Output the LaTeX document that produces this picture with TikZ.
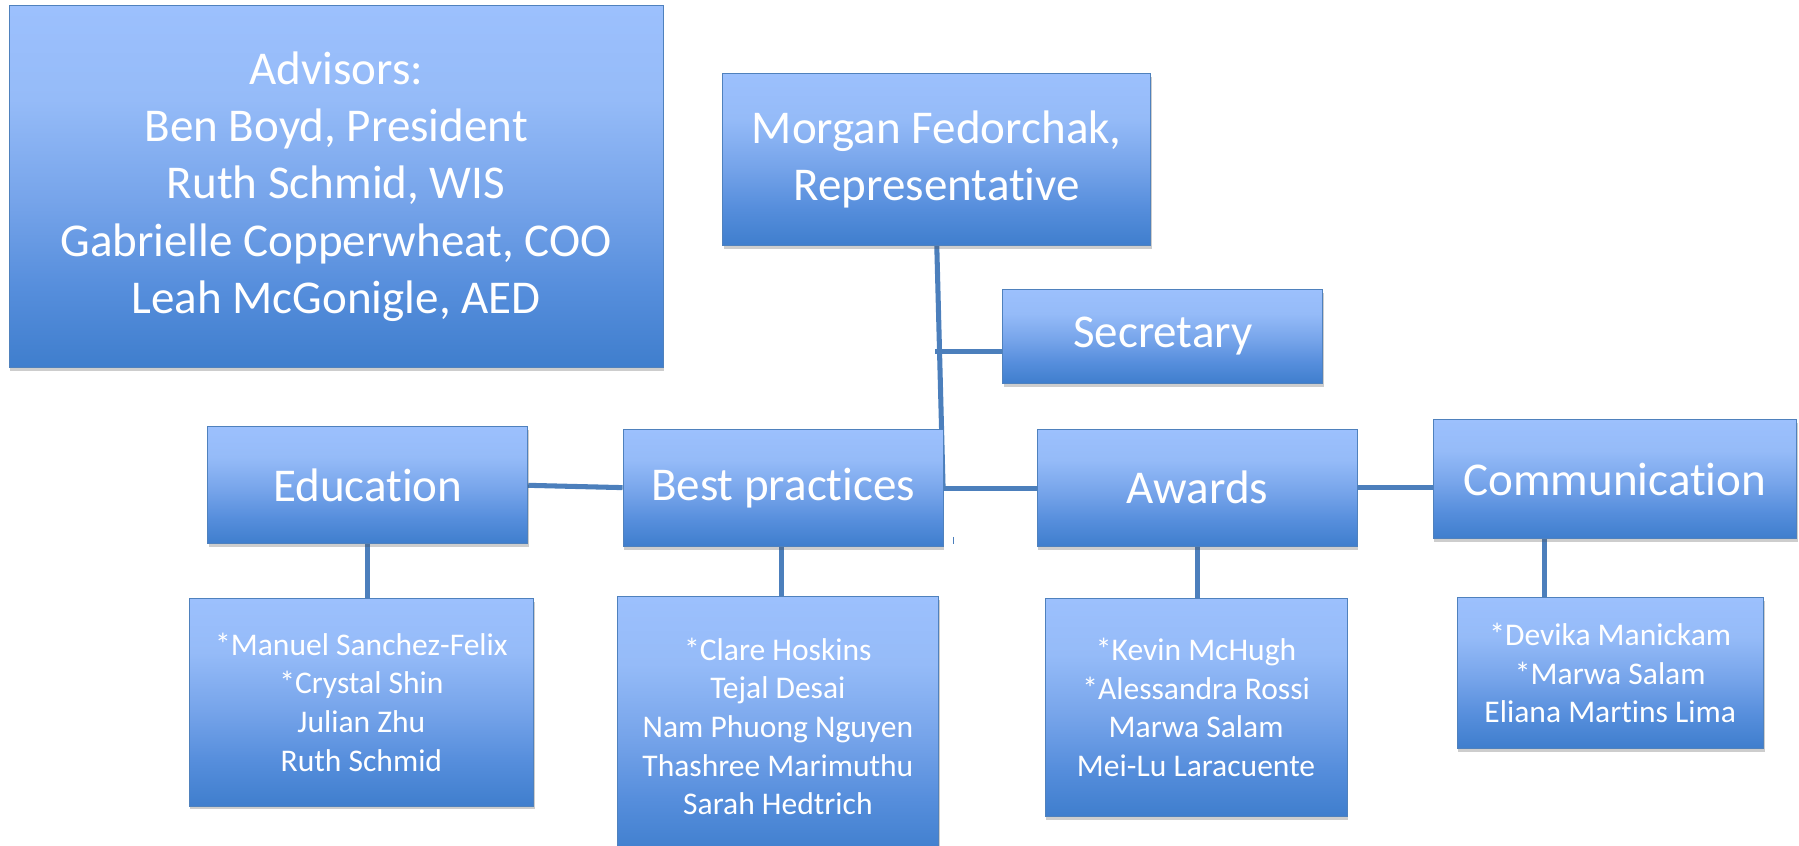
\documentclass[tikz,border=0pt]{standalone}
\usepackage{fontspec}
\setmainfont{Carlito}[Ligatures={NoCommon,NoRequired,NoContextual},RawFeature={-liga;-clig;-dlig;-calt}]
\usetikzlibrary{shadows,backgrounds}

\definecolor{bxtop}{RGB}{156,192,253}
\definecolor{bxhi}{RGB}{149,187,248}
\definecolor{bxmid}{RGB}{118,164,234}
\definecolor{bxlow}{RGB}{86,142,220}
\definecolor{bxbot}{RGB}{63,126,205}
\definecolor{boxedge}{RGB}{79,129,189}
\definecolor{linkblue}{RGB}{76,127,188}

% vertical blend of the boxes: path spans 25bp (bottom) to 75bp (top)
\pgfdeclareverticalshading{boxshade}{100bp}{%
  color(0bp)=(bxbot); color(25bp)=(bxbot); color(36bp)=(bxlow);
  color(48bp)=(bxmid); color(62bp)=(bxhi); color(75bp)=(bxtop);
  color(100bp)=(bxtop)}

\tikzset{
  orgbox/.style={rectangle, draw=boxedge, line width=0.8pt, shading=boxshade,
    text=white, align=center, inner sep=0pt,
    drop shadow={shadow xshift=1pt, shadow yshift=-3pt, opacity=0.28, fill=black!70}},
  bigtext/.style={font=\fontsize{41}{50}\selectfont},
  smalltext/.style={font=\fontsize{27.5}{33.7}\selectfont},
  link/.style={draw=linkblue, line width=4.4pt}
}

\begin{document}
\begin{tikzpicture}[x={(1pt,0pt)}, y={(0pt,-1pt)}]
\useasboundingbox (0,0) rectangle (1568,737);

% top row
\node[orgbox, bigtext, minimum width=570, minimum height=315] (adv) at (293,162.5)
  {Advisors:\\Ben Boyd, President\\Ruth Schmid, WIS\\Gabrielle Copperwheat, COO\\Leah McGonigle, AED};
\node[orgbox, bigtext, minimum width=373, minimum height=150] (morgan) at (816.5,139)
  {Morgan Fedorchak,\\Representative};
\node[orgbox, bigtext, minimum width=279, minimum height=82] (sec) at (1013.5,293) {Secretary};

% committees
\node[orgbox, bigtext, minimum width=279, minimum height=102] (edu) at (320.5,423) {Education};
\node[orgbox, bigtext, minimum width=279, minimum height=102] (bp) at (682.5,425) {Best practices};
\node[orgbox, bigtext, minimum width=279, minimum height=102] (aw) at (1043.5,425) {Awards};
\node[orgbox, bigtext, minimum width=317, minimum height=103] (com) at (1407.5,417.5) {Communication};

% committee members
\node[orgbox, smalltext, minimum width=300, minimum height=181] (edum) at (315,612)
  {*Manuel Sanchez-Felix\\*Crystal Shin\\Julian Zhu\\Ruth Schmid};
\node[orgbox, smalltext, minimum width=280, minimum height=226] (bpm) at (678,633)
  {*Clare Hoskins\\Tejal Desai\\Nam Phuong Nguyen\\Thashree Marimuthu\\Sarah Hedtrich};
\node[orgbox, smalltext, minimum width=263, minimum height=190] (awm) at (1042.5,616.5)
  {*Kevin McHugh\\*Alessandra Rossi\\Marwa Salam\\Mei-Lu Laracuente};
\node[orgbox, smalltext, minimum width=267, minimum height=131] (comm) at (1403.5,586.5)
  {*Devika Manickam\\*Marwa Salam\\Eliana Martins Lima};

% junction points on the trunk line
\coordinate (hub) at (822,426);
\coordinate (sj) at (815,306);
\coordinate (comdrop) at ([xshift=-61.5pt]com.south);

% connectors, kept behind the boxes
\begin{scope}[on background layer]
\path[link] (morgan.south) -- (hub);
\path[link] (sj) -- (sj -| sec.west);
\path[link] (edu.east) -- (bp.west);
\path[link] (hub) -- (hub -| aw.west);
\path[link] (aw.east) -- (aw.east -| com.west);
\path[link] ([xshift=-0.5pt]edu.south) -- ([xshift=-0.5pt]edu.south |- edum.north);
\path[link] ([xshift=-1.5pt]bp.south) -- ([xshift=-1.5pt]bp.south |- bpm.north);
\path[link] (aw.south) -- (aw.south |- awm.north);
\path[link] (comdrop) -- (comdrop |- comm.north);
\end{scope}

% small stray tick below the trunk
\draw[linkblue, line width=0.9pt] (831,468) -- (831,474);
\end{tikzpicture}
\end{document}
